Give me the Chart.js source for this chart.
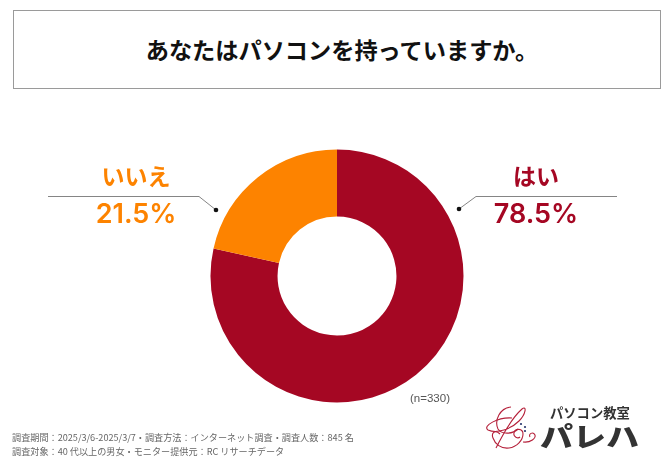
<!DOCTYPE html>
<html lang="ja">
<head>
<meta charset="utf-8">
<title>パソコン所有率</title>
<script src="https://cdn.jsdelivr.net/npm/chart.js@4"></script>
<style>
  html, body { margin: 0; padding: 0; background: #fff; }
  #page { position: relative; width: 672px; height: 473px; overflow: hidden; font-family: "Noto Sans CJK JP", sans-serif; }
  #page div { position: absolute; white-space: nowrap; }
  #titleBox { left: 13px; top: 10px; width: 636px; padding-left: 10px; height: 77px; border: 1px solid #9a9a9a; line-height: 76px; text-align: center; font-size: 23.2px; font-weight: 700; color: #111; }
  #chartWrap { left: 209px; top: 148px; width: 256px; height: 256px; }
  #leaders { position: absolute; left: 0; top: 0; }
  .catLabel { width: 160px; text-align: center; font-size: 23px; font-weight: 700; line-height: 30px; }
  .pctLabel { width: 160px; text-align: center; font-size: 27px; font-weight: 600; line-height: 30px; font-family: Inter, sans-serif; }
  #nLabel { left: 410px; top: 391px; font-size: 11.5px; line-height: 14px; color: #555; font-family: "Liberation Sans", sans-serif; }
  .note { left: 12px; font-size: 9.15px; line-height: 12px; color: #666; }
  #logoTop { left: 550px; top: 405px; font-size: 13.3px; line-height: 15px; font-weight: 700; color: #333; }
  #logoMain { left: 540px; top: 418px; font-size: 33px; line-height: 36px; font-weight: 900; color: #333; transform: scaleY(0.82); }
</style>
</head>
<body>
<div id="page">
  <div id="titleBox"></div>
  <div id="chartWrap"><canvas id="donut" width="256" height="256"></canvas></div>
  <svg id="leaders" width="672" height="473">
    <polyline points="48,196.5 199,196.5 216,210" fill="none" stroke="#777" stroke-width="0.9"/>
    <circle cx="216" cy="210" r="2.3" fill="#111"/>
    <polyline points="617,196.5 476,196.5 459,209" fill="none" stroke="#777" stroke-width="0.9"/>
    <circle cx="459" cy="209" r="2.3" fill="#111"/>
    <!-- ロゴの飾り文字 -->
    <g fill="none" stroke="#b5203a" stroke-width="1.1">
      <path d="M496,448 C504,432 514,416 522,409 C527,405 526,414 519,421 C511,429 497,434 488,430 C482,426 498,417 512,418"/>
      <path d="M511,407 C500,408 494,420 498,429 C502,435 513,434 518,429"/>
      <path d="M500,434 C495,429 491,433 493,438 C495,444 501,449 509,448 C517,447 523,440 523,434 C523,428 515,428 514,433 C513,437 518,439 520,437"/>
      <path d="M523,442 C531,443 536,438 535,435 C533,431 528,434 530,437"/>
    </g>
    <g fill="#26346b">
      <circle cx="521" cy="424" r="1.1"/><circle cx="525" cy="427" r="1.1"/><circle cx="525" cy="431" r="1.1"/>
    </g>
  </svg>
  <div id="nLabel"></div>
  <div id="logoTop">パソコン教室</div>
  <div id="logoMain">パレハ</div>
</div>
<script>
const titleText = "あなたはパソコンを持っていますか。";
const categories = ["はい", "いいえ"];
const values = [78.5, 21.5];
const colors = ["#a50723", "#fd8300"];
const sampleText = "(n=330)";
const notes = [
  "調査期間：2025/3/6-2025/3/7・調査方法：インターネット調査・調査人数：845 名",
  "調査対象：40 代以上の男女・モニター提供元：RC リサーチデータ"
];

const page = document.getElementById("page");
document.getElementById("titleBox").textContent = titleText;
document.getElementById("nLabel").textContent = sampleText;

function addText(cls, text, left, top, color) {
  const el = document.createElement("div");
  el.className = cls;
  el.textContent = text;
  el.style.left = left + "px";
  el.style.top = top + "px";
  if (color) el.style.color = color;
  page.appendChild(el);
}

// 左右のラベル
const labelLeft = [456, 56];
categories.forEach((name, i) => {
  addText("catLabel", name, labelLeft[i], 160, colors[i]);
  addText("pctLabel", values[i].toFixed(1) + "%", labelLeft[i], 199, colors[i]);
});

notes.forEach((line, i) => addText("note", line, 12, 431 + i * 14));

new Chart(document.getElementById("donut"), {
  type: "doughnut",
  data: {
    labels: categories,
    datasets: [{
      data: values,
      backgroundColor: colors,
      borderWidth: 0
    }]
  },
  options: {
    responsive: false,
    animation: false,
    cutout: "47%",
    layout: { padding: 1.5 },
    plugins: {
      legend: { display: false },
      tooltip: { enabled: false }
    }
  }
});
</script>
</body>
</html>
